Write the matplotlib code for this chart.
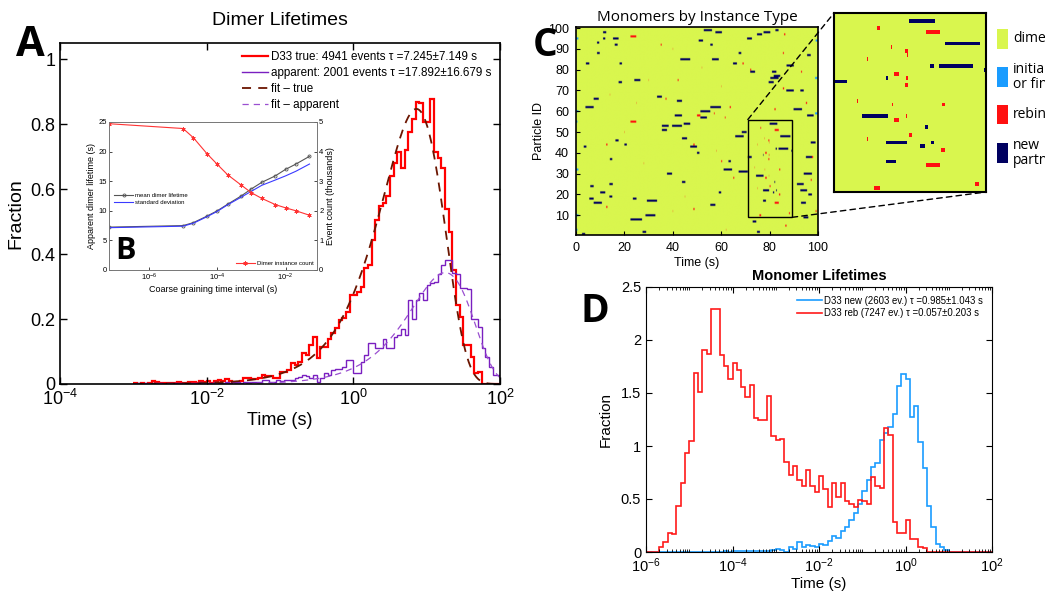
import numpy as np
import matplotlib
matplotlib.use('Agg')
import matplotlib.pyplot as plt
from matplotlib.colors import ListedColormap
from matplotlib.patches import Rectangle, ConnectionPatch
from matplotlib.ticker import FuncFormatter, NullLocator, LogLocator, FixedLocator, NullFormatter

plt.rcParams['font.family'] = ['Liberation Sans', 'DejaVu Sans']
plt.rcParams['mathtext.default'] = 'regular'

# ── Panel A: dimer lifetime histograms (100 log bins, 1e-3 .. 1e2 s) ──
true_frac = [0.002, 0.0, 0.003, 0.0, 0.002, 0.008, 0.006, 0.002, 0.004, 0.003,
             0.004, 0.002, 0.005, 0.003, 0.002, 0.006, 0.005, 0.003, 0.008, 0.006,
             0.009, 0.004, 0.008, 0.012, 0.01, 0.014, 0.01, 0.006, 0.003, 0.008,
             0.02, 0.02, 0.015, 0.015, 0.02, 0.028, 0.025, 0.025, 0.02, 0.02,
             0.038, 0.038, 0.043,
             0.066, 0.058, 0.069, 0.096, 0.089, 0.12, 0.146, 0.079, 0.115, 0.115,
             0.14, 0.156, 0.171, 0.197, 0.202, 0.223, 0.274, 0.274, 0.284, 0.30,
             0.356, 0.366, 0.443, 0.505, 0.548,
             0.556, 0.58, 0.64, 0.68, 0.715, 0.664, 0.72, 0.776, 0.817, 0.869,
             0.866, 0.807, 0.807, 0.879, 0.715, 0.697, 0.664, 0.54, 0.469, 0.351,
             0.243, 0.205, 0.12, 0.12, 0.084, 0.033, 0.038, 0, 0, 0, 0, 0]
apparent_frac = [0, 0.002, 0, 0.003, 0, 0.002, 0.004, 0.002, 0, 0.003,
                 0.002, 0.003, 0.002, 0.004, 0.003, 0.002, 0.004, 0.003, 0.005, 0.002,
                 0.004, 0.003, 0.005, 0.004, 0.003, 0.006, 0.004, 0.005, 0.007, 0.004,
                 0.006, 0.005, 0.007, 0.006, 0.005,
                 0.012, 0.012, 0.007, 0.007, 0.012, 0.008, 0.012, 0.012,
                 0.012, 0.017, 0.023, 0.028, 0.025, 0.017, 0.028, 0.007, 0.017, 0.033,
                 0.028, 0.043, 0.045, 0.045, 0.053, 0.074, 0.074, 0.033, 0.033, 0.069,
                 0.089, 0.125, 0.125, 0.11,
                 0.11, 0.14, 0.11, 0.11, 0.146, 0.15, 0.168, 0.15, 0.258, 0.2,
                 0.258, 0.279, 0.26, 0.305, 0.31, 0.315, 0.34, 0.366, 0.382, 0.382,
                 0.343, 0.34, 0.297, 0.297, 0.294, 0.2, 0.2, 0.176, 0.11, 0.084,
                 0.053, 0.028, 0.028]
n_true, tau_true, sd_true = 4941, 7.245, 7.149
n_app, tau_app, sd_app = 2001, 17.892, 16.679

# ── Panel B: coarse graining scan ──
cg_interval = [7e-8, 1e-5, 2e-5, 5e-5, 1e-4, 2e-4, 5e-4, 1e-3, 2e-3, 5e-3, 1e-2, 2e-2, 5e-2]
mean_lifetime = [7.245, 7.5, 8.0, 9.1, 10.0, 11.1, 12.5, 13.7, 14.8, 15.9, 17.0, 17.892, 19.2]
std_lifetime = [7.149, 7.4, 7.9, 9.0, 9.9, 11.0, 12.3, 13.3, 14.3, 15.2, 15.9, 16.679, 17.9]
event_count_k = [4.941, 4.78, 4.47, 3.93, 3.57, 3.22, 2.87, 2.61, 2.42, 2.21, 2.10, 2.001, 1.85]

# ── Panel C: monomer events (particle id, start s, end s) ──
new_partner = [
    (98, 11.2, 12.5), (99, 52.8, 56.2), (98, 57.6, 60.3), (97, 74.8, 76.9), (98, 77.5, 80.3),
    (99, 82.4, 83.7), (95, 70.7, 72.7), (95, 15.3, 17.6), (95, 11.2, 12.1), (93, 8.7, 9.6),
    (92, 16.0, 17.2), (94, 50.7, 52.5), (92, 55.5, 56.5), (88, 8.7, 9.8), (88, 67.2, 68.3),
    (85, 43.1, 47.2), (85, 56.2, 59.0), (83, 64.9, 66.5), (83, 4.1, 5.5), (83, 18.0, 19.0),
    (82, 87.0, 90.0), (79, 72.0, 74.0), (79, 81.0, 82.8), (77, 81.7, 84.4), (76, 80.3, 83.7),
    (74, 79.6, 81.7), (75, 24.1, 26.6), (74, 17.6, 19.0), (70, 86.9, 90.0), (70, 92.7, 94.1),
    (67, 33.5, 35.5), (65, 41.7, 43.8), (66, 7.3, 9.4), (62, 3.9, 7.3), (62, 55.5, 59.9),
    (60, 51.4, 55.5), (61, 89.9, 93.4), (58, 95.5, 98.2), (58, 40.8, 43.8), (57, 51.4, 54.1),
    (54, 44.5, 47.2), (53, 39.7, 43.8), (53, 35.5, 38.3), (51, 35.5, 37.6), (50, 68.5, 70.5),
    (48, 65.8, 69.3), (45, 97.0, 99.0), (46, 16.3, 17.6), (47, 43.8, 45.9), (43, 47.2, 50.0),
    (43, 3.2, 4.3), (36, 63.0, 64.0), (32, 61.0, 64.5), (31, 67.2, 71.0), (30, 37.6, 39.7),
    (30, 94.1, 97.5), (26, 43.8, 45.2), (25, 13.8, 15.2), (25, 91.3, 94.1), (24, 5.9, 7.3),
    (22, 92.7, 95.5), (21, 10.0, 12.1), (21, 59.0, 60.0), (18, 5.5, 7.3), (19, 13.8, 15.0),
    (16, 7.3, 10.7), (17, 29.3, 33.5), (18, 23.5, 25.0), (15, 55.5, 57.6), (16, 93.0, 95.0),
    (8, 22.5, 27.3), (10, 28.7, 32.8), (2, 27.5, 29.0), (7, 73.0, 74.5), (1, 2.5, 3.8),
    (9, 94.0, 96.0), (40, 50.0, 51.0), (37, 14.0, 15.0), (44, 20.0, 21.0), (2, 74.8, 76.0),
    (87, 95.5, 97.0), (38, 95.0, 97.5), (20, 96.0, 97.5),
    (54, 80.0, 83.2), (48, 84.4, 88.6), (42, 82.5, 83.0), (42, 83.7, 87.7), (41, 89.0, 89.5),
    (38, 71.0, 72.6), (39, 77.3, 77.5), (29, 74.4, 77.5), (26, 82.0, 82.3), (22, 77.3, 79.8),
    (22, 82.7, 83.0), (21, 81.4, 81.9), (17, 77.3, 78.5),
]
rebind = [
    (96, 22.5, 24.9), (55, 22.5, 24.9), (58, 50.0, 51.4), (44, 48.5, 49.0), (13, 48.5, 49.0),
    (62, 63.5, 64.0), (83, 68.8, 69.3), (79, 93.0, 93.4), (44, 12.5, 13.0), (14, 12.5, 13.0),
    (61, 82.0, 82.5), (64, 95.0, 95.5), (71, 85.5, 86.0), (97, 86.0, 86.5), (80, 72.0, 72.4),
    (88, 85.5, 85.9), (38, 97.5, 98.0), (36, 60.0, 60.4), (92, 35.0, 35.4), (66, 37.0, 37.4),
    (28, 65.0, 65.4), (5, 86.5, 87.0), (75, 42.0, 42.4), (59, 57.0, 57.3), (57, 61.5, 61.8),
    (27, 97.0, 97.4), (12, 99.0, 99.4),
    (52, 76.2, 76.5), (51, 82.1, 83.8), (46, 79.5, 79.9), (40, 78.2, 78.8), (39, 79.7, 79.9),
    (37, 79.5, 79.9), (32, 84.0, 84.4), (28, 78.2, 78.8), (29, 79.7, 79.8), (24, 80.0, 80.4),
    (20, 83.9, 84.4), (16, 82.1, 83.8), (11, 88.0, 88.4), (10, 75.8, 76.5),
    (44, 75.0, 75.1), (47, 77.9, 78.0), (45, 79.8, 79.9), (33, 73.8, 73.9), (23, 75.0, 75.1),
    (32, 78.0, 78.1), (90, 40.0, 40.1), (75, 30.0, 30.1), (68, 14.0, 14.1), (50, 20.0, 20.1),
    (35, 28.0, 28.1), (12, 40.0, 40.1), (81, 52.0, 52.1), (41, 58.0, 58.1), (3, 62.0, 62.1),
    (64, 25.0, 25.1), (19, 45.0, 45.1), (72, 60.0, 60.1),
]
initial_final = [(95, 0, 1.0), (60, 0, 1.0), (55, 0, 0.6), (32, 0, 1.0), (10, 0, 1.0),
                 (3, 0, 0.6), (76, 98.8, 100), (59, 98.8, 100), (94, 99.0, 100)]
state_names = ['dimer', 'initial\nor final', 'rebind', 'new\npartner']
state_colors = ['#d9f64e', '#1a9cff', '#ff1010', '#000060']
zoom_t = (71, 89.3)
zoom_p = (9, 56)

# ── Panel D: monomer lifetime histograms (80 log bins, 1e-6 .. 1e2 s) ──
new_frac = [0] * 18 + [0.005, 0, 0.005, 0.005, 0.01, 0.005, 0.01, 0.005, 0.01, 0.005, 0.01, 0.02,
                       0.03, 0.02, 0.0, 0.05, 0.03, 0.09, 0.05, 0.07, 0.06, 0.05, 0.08, 0.07, 0.10,
                       0.15, 0.13, 0.20, 0.24, 0.30, 0.37, 0.45, 0.58, 0.68, 0.80, 0.84, 1.06, 1.12,
                       1.18, 1.30, 1.57, 1.68, 1.63, 1.27, 1.38, 1.04, 0.79, 0.43, 0.24, 0.08, 0.05,
                       0.02] + [0] * 10
reb_frac = [0, 0, 0, 0.05, 0.09, 0.18, 0.17, 0.43, 0.65, 0.93, 1.05, 1.69, 1.51, 1.91, 1.87,
            2.29, 2.29, 1.86, 1.75, 1.63, 1.78, 1.72, 1.56, 1.46, 1.58, 1.26, 1.25, 1.25, 1.47,
            1.09, 1.06, 1.07, 0.85, 0.73, 0.81, 0.68, 0.62, 0.77, 0.62, 0.57, 0.72, 0.59, 0.42,
            0.65, 0.52, 0.65, 0.48, 0.45, 0.42, 0.49, 0.48, 0.45, 0.71, 0.62, 0.60, 1.17, 1.10,
            0.28, 0.18, 0.18, 0.30, 0.12, 0.12, 0.05, 0.04] + [0] * 15
n_new, tau_new, sd_new = 2603, 0.985, 1.043
n_reb, tau_reb, sd_reb = 7247, 0.057, 0.203

W, H = 1045, 596


def box(l, t, r, b):
    return [l / W, 1 - b / H, (r - l) / W, (b - t) / H]


gfmt = FuncFormatter(lambda v, _: f'{v:g}')
fig = plt.figure(figsize=(W / 100, H / 100), dpi=100)

# ══════════ A ══════════
axA = fig.add_axes(box(60, 43, 500, 384))
edgesA = np.logspace(-3, 2, len(true_frac) + 1)
axA.stairs(true_frac, edgesA, baseline=None, color='#ff0000', lw=1.6,
           label=f'D33 true: {n_true} events τ ={tau_true}±{sd_true} s')
axA.stairs(apparent_frac, edgesA, baseline=None, color='#7a1fc0', lw=1.0,
           label=f'apparent: {n_app} events τ ={tau_app}±{sd_app} s')
t = np.logspace(-3, 2, 400)
fit_true = np.log(10) * t / tau_true * np.exp(-t / tau_true)
fit_app = n_app / n_true * np.log(10) * t / tau_app * np.exp(-t / tau_app)
axA.plot(t, fit_true, color='#6b1500', lw=1.3, dashes=(5, 4), label='fit – true')
axA.plot(t, fit_app, color='#9a4fd0', lw=0.9, dashes=(5, 4), label='fit – apparent')
axA.set_xscale('log')
axA.set_xlim(1e-4, 1e2)
axA.set_ylim(0, 1.05)
axA.xaxis.set_major_locator(FixedLocator([1e-4, 1e-2, 1e0, 1e2]))
axA.xaxis.set_minor_locator(NullLocator())
axA.set_yticks([0, 0.2, 0.4, 0.6, 0.8, 1])
axA.yaxis.set_major_formatter(gfmt)
axA.tick_params(direction='in', top=True, right=True, length=5, width=1, labelsize=13)
for s in axA.spines.values():
    s.set_linewidth(1.2)
axA.set_xlabel('Time (s)', fontsize=13, labelpad=2)
axA.set_ylabel('Fraction', fontsize=14, labelpad=4)
axA.set_title('Dimer Lifetimes', fontsize=14, pad=13)
axA.legend(loc='upper right', frameon=False, fontsize=8.4, handlelength=2.2,
           labelspacing=0.35, handletextpad=0.3, borderaxespad=0.3)

# ══════════ B (inset) ══════════
axB = fig.add_axes(box(109, 122, 317, 270))
axB.set_zorder(3)
axB.plot(cg_interval, mean_lifetime, color='#555555', lw=0.8, marker='o', ms=2.2,
         mfc='none', mew=0.6, label='mean dimer lifetime')
axB.plot(cg_interval, std_lifetime, color='#3a3aff', lw=0.8, label='standard deviation')
axB.set_xscale('log')
axB.set_xlim(6.8e-8, 8.3e-2)
axB.set_ylim(0, 25)
axB.set_yticks([0, 5, 10, 15, 20, 25])
axB.xaxis.set_major_locator(FixedLocator([1e-6, 1e-4, 1e-2]))
axB.xaxis.set_minor_locator(NullLocator())
axB.tick_params(direction='in', length=2, width=0.5, labelsize=5.5, pad=1.5)
axB.set_xlabel('Coarse graining time interval (s)', fontsize=6.5, labelpad=1)
axB.set_ylabel('Apparent dimer lifetime (s)', fontsize=6.5, labelpad=2)
axB.legend(loc='center left', bbox_to_anchor=(0.0, 0.48), frameon=False, fontsize=4.3,
           handlelength=3.2, labelspacing=0.3, handletextpad=0.3)
axB2 = axB.twinx()
axB2.plot(cg_interval, event_count_k, color='#ff3333', lw=0.8, marker=(6, 2, 0), ms=3,
          mew=0.6, label='Dimer instance count')
axB2.set_ylim(0, 5)
axB2.set_yticks([0, 1, 2, 3, 4, 5])
axB2.tick_params(direction='in', length=2, width=0.5, labelsize=5.5, pad=1.5)
axB2.set_ylabel('Event count (thousands)', fontsize=6.5, labelpad=2)
axB2.legend(loc='lower right', frameon=False, fontsize=4.3, handlelength=3.2,
            handletextpad=0.3, borderaxespad=0.2)
for a in (axB, axB2):
    for s in a.spines.values():
        s.set_linewidth(0.6)
        s.set_color('#777777')

# ══════════ C ══════════
state = np.zeros((100, 1000), dtype=int)
for code, events in [(1, initial_final), (2, rebind), (3, new_partner)]:
    for pid, t0, t1 in events:
        c0 = int(round(t0 * 10))
        c1 = max(int(round(t1 * 10)), c0 + 1)
        state[pid - 1, c0:c1] = code
cmap = ListedColormap(state_colors)

axC = fig.add_axes(box(576, 27, 818, 235))
axC.imshow(state, cmap=cmap, vmin=-0.5, vmax=3.5, aspect='auto', origin='lower',
           extent=(0, 100, 0.5, 100.5), interpolation='antialiased',
           interpolation_stage='rgba')
axC.set_xlim(0, 100)
axC.set_ylim(0.5, 100.5)
axC.set_xticks([0, 20, 40, 60, 80, 100])
axC.set_yticks(np.arange(10, 101, 10))
axC.tick_params(direction='in', length=3, labelsize=9, pad=5)
axC.set_xlabel('Time (s)', fontsize=9, labelpad=2)
axC.set_ylabel('Particle ID', fontsize=9, labelpad=2)
axC.set_title('Monomers by Instance Type', fontsize=11, pad=4, family='Open Sans')
for s in axC.spines.values():
    s.set_linewidth(1.2)
axC.add_patch(Rectangle((zoom_t[0], zoom_p[0]), zoom_t[1] - zoom_t[0], zoom_p[1] - zoom_p[0],
                        fill=False, ec='black', lw=1))

axZ = fig.add_axes(box(834, 13, 986, 192))
axZ.imshow(state, cmap=cmap, vmin=-0.5, vmax=3.5, aspect='auto', origin='lower',
           extent=(0, 100, 0.5, 100.5), interpolation='nearest')
axZ.set_xlim(*zoom_t)
axZ.set_ylim(*zoom_p)
axZ.set_xticks([])
axZ.set_yticks([])
for s in axZ.spines.values():
    s.set_linewidth(1.5)
for xy in [(zoom_t[0], zoom_p[1]), (zoom_t[1], zoom_p[0])]:
    con = ConnectionPatch(xyA=xy, coordsA=axC.transData, xyB=xy, coordsB=axZ.transData,
                          color='black', lw=1, linestyle=(0, (4, 3)))
    fig.add_artist(con)

# state legend on the far right
for i, (name, col) in enumerate(zip(state_names, state_colors)):
    yc = 39 + 38 * i
    fig.add_artist(Rectangle((997 / W, 1 - (yc + 9.5) / H), 11 / W, 19 / H,
                             transform=fig.transFigure, fc=col, ec='none'))
    fig.text(1013 / W, 1 - yc / H, name, fontsize=10, family='Open Sans',
             va='center', ha='left', linespacing=0.95)

# ══════════ D ══════════
axD = fig.add_axes(box(646, 287, 992, 552))
edgesD = np.logspace(-6, 2, len(new_frac) + 1)
axD.stairs(new_frac, edgesD, baseline=None, color='#1a9cff', lw=1.2,
           label=f'D33 new ({n_new} ev.) τ ={tau_new}±{sd_new} s')
axD.stairs(reb_frac, edgesD, baseline=None, color='#ff1a1a', lw=1.2,
           label=f'D33 reb ({n_reb} ev.) τ ={tau_reb}±{sd_reb} s')
axD.set_xscale('log')
axD.set_xlim(1e-6, 1e2)
axD.set_ylim(0, 2.5)
axD.xaxis.set_major_locator(FixedLocator([1e-6, 1e-4, 1e-2, 1e0, 1e2]))
axD.xaxis.set_minor_locator(LogLocator(base=10, subs=np.arange(1, 10), numticks=100))
axD.xaxis.set_minor_formatter(NullFormatter())
axD.set_yticks([0, 0.5, 1, 1.5, 2, 2.5])
axD.yaxis.set_major_formatter(gfmt)
axD.tick_params(which='both', direction='in', top=True, right=True, labelsize=10.5)
axD.tick_params(which='major', length=4)
axD.tick_params(which='minor', length=2)
axD.set_xlabel('Time (s)', fontsize=11, labelpad=1)
axD.set_ylabel('Fraction', fontsize=11, labelpad=6)
axD.set_title('Monomer Lifetimes', fontsize=10.5, fontweight='bold', pad=5)
axD.legend(loc='upper right', frameon=False, fontsize=6.9, handlelength=2.6,
           labelspacing=0.3, handletextpad=0.3, borderaxespad=0.5)

# panel letters
for letter, x, y, size in [('A', 30, 45, 30), ('B', 125, 251, 22), ('C', 545, 46, 28), ('D', 595, 312, 28)]:
    fig.text(x / W, 1 - y / H, letter, fontsize=size, fontweight='bold', family='Open Sans',
             ha='center', va='center', zorder=10)

fig.savefig('out.png', dpi=100)
